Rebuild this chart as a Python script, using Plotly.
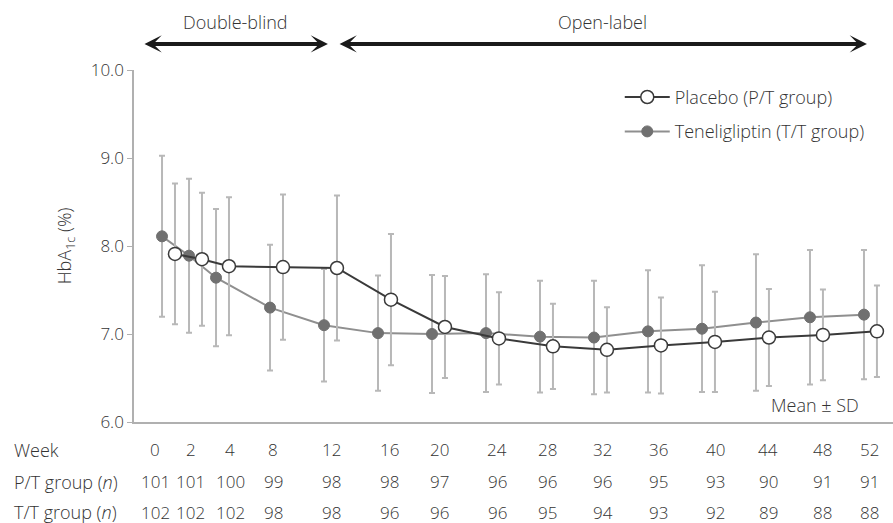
import plotly.graph_objects as go

# ---- data ----
weeks = [0, 2, 4, 8, 12, 16, 20, 24, 28, 32, 36, 40, 44, 48, 52]
placebo_mean = [7.91, 7.85, 7.77, 7.76, 7.75, 7.39, 7.08, 6.95, 6.86, 6.82, 6.87, 6.91, 6.96, 6.99, 7.03]
placebo_sd = [0.80, 0.755, 0.785, 0.825, 0.825, 0.745, 0.58, 0.525, 0.485, 0.485, 0.545, 0.57, 0.55, 0.515, 0.52]
teneli_mean = [8.11, 7.89, 7.64, 7.30, 7.10, 7.01, 7.00, 7.01, 6.97, 6.96, 7.03, 7.06, 7.13, 7.19, 7.22]
teneli_sd = [0.915, 0.875, 0.78, 0.715, 0.64, 0.655, 0.67, 0.67, 0.635, 0.645, 0.695, 0.72, 0.775, 0.765, 0.735]
pt_n = [101, 101, 100, 99, 98, 98, 97, 96, 96, 96, 95, 93, 90, 91, 91]
tt_n = [102, 102, 102, 98, 98, 96, 96, 96, 95, 94, 93, 92, 89, 88, 88]
yticks = [6.0, 7.0, 8.0, 9.0, 10.0]

# ---- layout constants ----
FONT = "Open Sans"
TXT = "#333333"
W = 300
dodge = 0.48
table_x = [-1.0, 1.63, 4.59, 7.76, 12.09, 16.35, 20.1, 24.36, 28.1, 32.16, 36.27, 40.53, 44.43, 48.43, 51.96]

fig = go.Figure()

fig.add_trace(go.Scatter(
    x=[w - dodge for w in weeks], y=teneli_mean,
    mode="lines+markers", name="Teneligliptin (T/T group)",
    legendgroup="t", legendrank=2,
    line=dict(color="#8f8f8f", width=2),
    marker=dict(size=11, color="#707070", line=dict(color="#707070", width=1)),
    error_y=dict(type="data", array=teneli_sd, color="#b8b8b8", thickness=2, width=3),
))
fig.add_trace(go.Scatter(
    x=[w + dodge for w in weeks], y=placebo_mean,
    mode="lines+markers", name="Placebo (P/T group)",
    legendgroup="p", legendrank=1,
    line=dict(color="#3a3a3a", width=2),
    marker=dict(size=13, color="white", line=dict(color="#3a3a3a", width=1.5)),
    error_y=dict(type="data", array=placebo_sd, color="#b8b8b8", thickness=2, width=3),
))

ann = []
# arrows at top
arrow_y = 1.074
for x0, x1, label in [(-1.89, 11.81, "Double-blind"), (12.56, 51.74, "Open-label")]:
    ann.append(dict(x=x1, y=arrow_y, xref="x", yref="paper", ax=x0, ay=0,
                    axref="x", ayref="pixel", text="", showarrow=True,
                    arrowside="end+start", arrowhead=3, startarrowhead=3,
                    arrowsize=0.72, startarrowsize=0.72, arrowwidth=4,
                    arrowcolor="#1a1a1a", standoff=0, startstandoff=0))
    ann.append(dict(x=(x0 + x1) / 2, y=1.136, xref="x", yref="paper", text=label,
                    showarrow=False, font=dict(family=FONT, size=18, color=TXT, weight=W),
                    xanchor="center", yanchor="middle"))

# table
rows = [("Week", weeks, -0.0795), ("P/T group (<i>n</i>)", pt_n, -0.170),
        ("T/T group (<i>n</i>)", tt_n, -0.256)]
for label, vals, yy in rows:
    ann.append(dict(x=-0.1607, y=yy, xref="paper", yref="paper", text=label,
                    showarrow=False, xanchor="left", yanchor="middle",
                    font=dict(family=FONT, size=18, color=TXT, weight=W)))
    for xx, v in zip(table_x, vals):
        ann.append(dict(x=xx, y=yy, xref="x", yref="paper", text=str(v),
                        showarrow=False, xanchor="center", yanchor="middle",
                        font=dict(family=FONT, size=17, color=TXT, weight=W)))

ann.append(dict(x=47.9, y=6.19, xref="x", yref="y", text="Mean ± SD",
                showarrow=False, xanchor="center", yanchor="middle",
                font=dict(family=FONT, size=18, color=TXT, weight=W)))

fig.update_layout(
    width=893, height=523,
    margin=dict(l=134, r=0, t=70, b=101),
    paper_bgcolor="white", plot_bgcolor="white",
    font=dict(family=FONT, size=17, color=TXT, weight=W),
    showlegend=True,
    legend=dict(x=0.64, y=0.975, xanchor="left", yanchor="top",
                bgcolor="rgba(0,0,0,0)", font=dict(family=FONT, size=18, color=TXT, weight=W),
                itemwidth=45, tracegroupgap=8, traceorder="grouped"),
    annotations=ann,
    xaxis=dict(range=[-2.556, 53.67], showgrid=False, zeroline=False,
               showticklabels=False, ticks="", showline=True,
               linecolor="#b0b0b0", linewidth=1.5),
    yaxis=dict(range=[6, 10], tickvals=yticks, tickformat=".1f",
               showgrid=False, zeroline=False, showline=True,
               linecolor="#b0b0b0", linewidth=1.5, ticks="outside",
               ticklen=5, tickcolor="#b0b0b0",
               tickfont=dict(family=FONT, size=17, color=TXT, weight=W),
               title=dict(text="HbA<sub>1c</sub> (%)", standoff=14,
                          font=dict(family=FONT, size=18, color=TXT, weight=W))),
)

fig.write_html("out.html", config={"displayModeBar": False},
               post_script="document.body.style.margin='0';")
